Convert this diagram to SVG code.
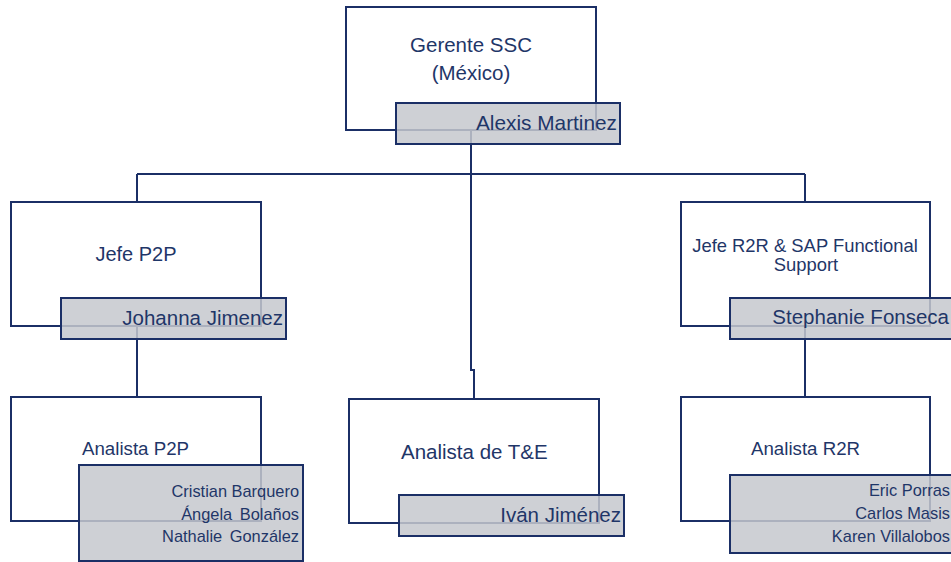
<svg xmlns="http://www.w3.org/2000/svg" width="951" height="562" viewBox="0 0 951 562">
<style>
.box{fill:#ffffff;stroke:#1b2f66;stroke-width:2}
.name{fill:#c6c8ce;fill-opacity:0.85;stroke:#1b2f66;stroke-width:2}
.con{fill:none;stroke:#1b2f66;stroke-width:2}
text{font-family:"Liberation Sans",Arial,sans-serif;fill:#1f3668}
.t20{font-size:20.5px}
.t18{font-size:18.7px}
.t17{font-size:18.4px}
.t16{font-size:16.4px}
.wide{word-spacing:3px}
</style>
<rect width="951" height="562" fill="#ffffff"/>
<g id="connectors">
<path class="con" d="M471,130 V174"/>
<path class="con" d="M137,174 H805"/>
<path class="con" d="M137,174 V202"/>
<path class="con" d="M805,174 V202"/>
<path class="con" d="M471,174 V370 H474 V399"/>
<path class="con" d="M137,326 V397"/>
<path class="con" d="M805,326 V397"/>
</g>
<g id="gerente">
<rect class="box" x="346" y="7" width="250" height="123"/>
<text class="t20" x="471" y="52" text-anchor="middle">Gerente SSC</text>
<text class="t20" x="471" y="80" text-anchor="middle">(México)</text>
<rect class="name" x="396" y="103" width="224" height="41"/>
<text x="617" y="130" text-anchor="end" font-size="20.8">Alexis Martinez</text>
</g>
<g id="jefe-p2p">
<rect class="box" x="11" y="202" width="250" height="124"/>
<text x="136" y="261" text-anchor="middle" font-size="20">Jefe P2P</text>
<rect class="name" x="61" y="298" width="225" height="41"/>
<text x="283" y="325" text-anchor="end" font-size="20.5">Johanna Jimenez</text>
</g>
<g id="jefe-r2r">
<rect class="box" x="681" y="202" width="249" height="124"/>
<text class="t17" x="805" y="252" text-anchor="middle">Jefe R2R &amp; SAP Functional</text>
<text class="t17" x="806" y="271" text-anchor="middle">Support</text>
<rect class="name" x="730" y="298" width="225" height="41"/>
<text x="949" y="324" text-anchor="end" font-size="20.5">Stephanie Fonseca</text>
</g>
<g id="analista-p2p">
<rect class="box" x="11" y="397" width="250" height="124"/>
<text class="t18" x="82" y="455">Analista P2P</text>
<rect class="name" x="79" y="465" width="224" height="96"/>
<text class="t16" x="299" y="497" text-anchor="end">Cristian Barquero</text>
<text class="t16 wide" x="299" y="519.5" text-anchor="end">Ángela Bolaños</text>
<text class="t16 wide" x="299" y="542" text-anchor="end">Nathalie González</text>
</g>
<g id="analista-te">
<rect class="box" x="349" y="399" width="250" height="124"/>
<text class="t20" x="401" y="459">Analista de T&amp;E</text>
<rect class="name" x="399" y="495" width="225" height="41"/>
<text x="621" y="522" text-anchor="end" font-size="20.5">Iván Jiménez</text>
</g>
<g id="analista-r2r">
<rect class="box" x="681" y="397" width="249" height="124"/>
<text class="t18" x="751" y="455">Analista R2R</text>
<rect class="name" x="730" y="475" width="225" height="78"/>
<text class="t16" x="950" y="496" text-anchor="end">Eric Porras</text>
<text class="t16" x="950" y="518.5" text-anchor="end">Carlos Masis</text>
<text class="t16" x="950" y="542" text-anchor="end">Karen Villalobos</text>
</g>
</svg>
